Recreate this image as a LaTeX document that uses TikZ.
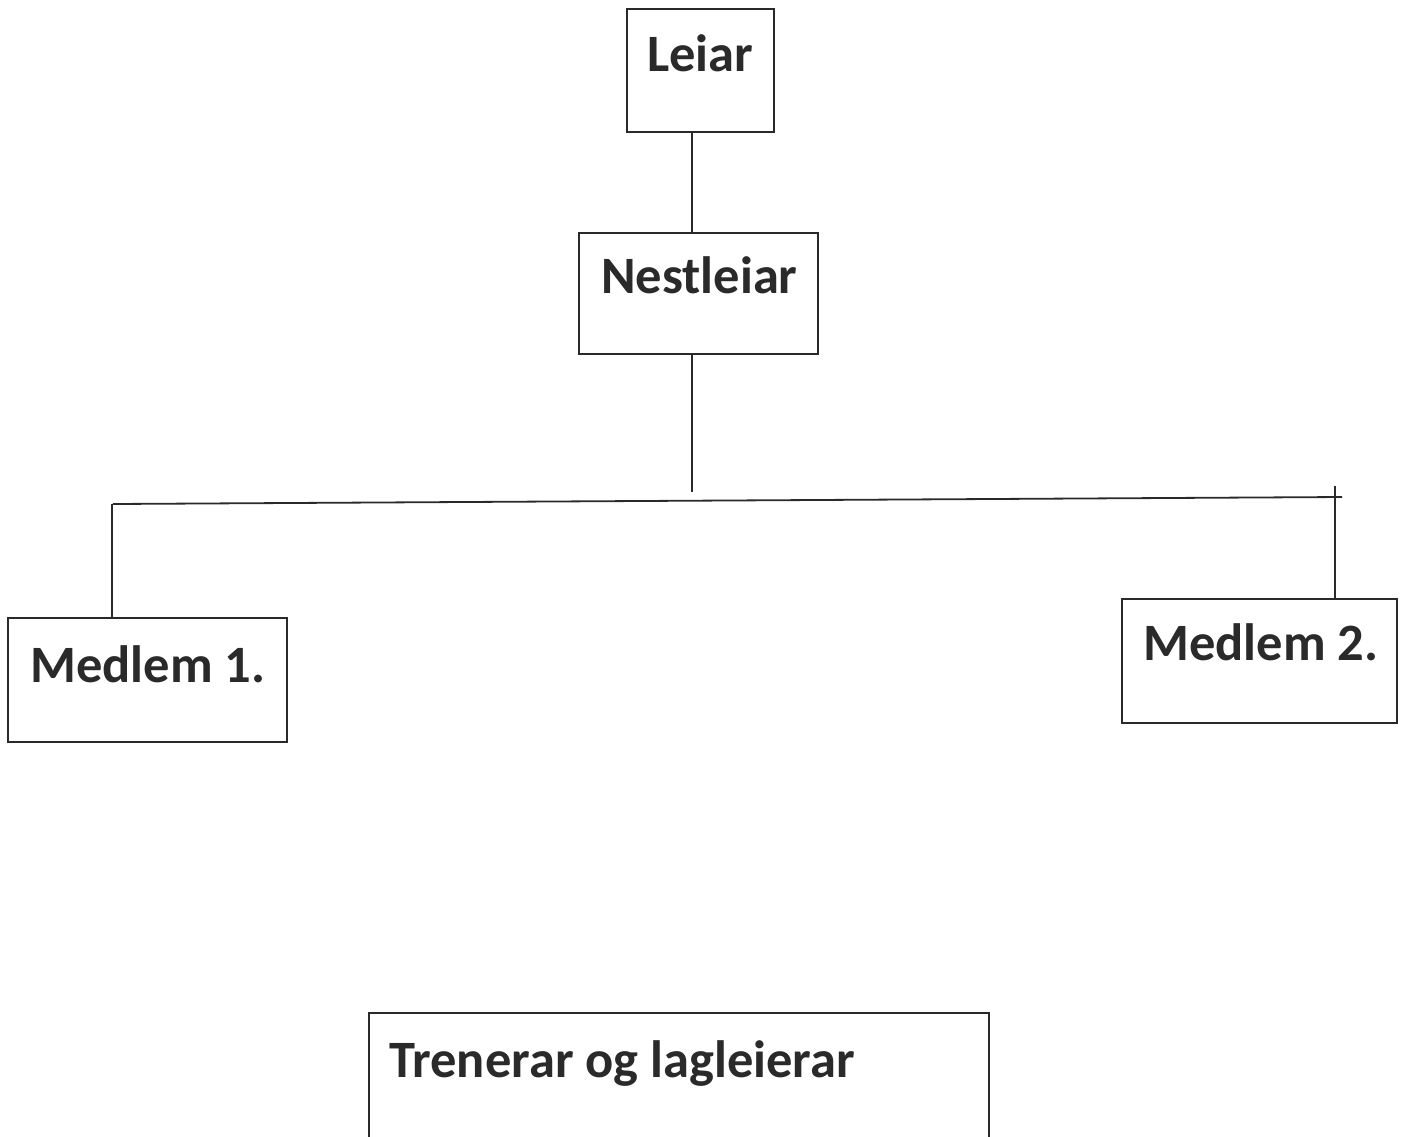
\documentclass[tikz,border=0pt]{standalone}
\usepackage{fontspec}
\setmainfont{Carlito}
\definecolor{ink}{HTML}{2A2A2A}
\begin{document}
\begin{tikzpicture}[x=1pt,y=-1pt,
  box/.style={draw=ink,line width=2pt,rectangle,inner sep=0pt,outer sep=0pt,anchor=north west},
  lbl/.style={text=ink,font=\fontsize{52.5}{60}\selectfont\bfseries,anchor=base west,inner sep=0pt},
  conn/.style={draw=ink,line width=1.8pt}]
\useasboundingbox[fill=white] (0,0) rectangle (1408,1136);
% boxes
\node[box,minimum width=147pt,minimum height=123pt] (leiar) at (627,9) {};
\node[box,minimum width=239pt,minimum height=121pt] (nest) at (579,233) {};
\node[box,minimum width=279pt,minimum height=124pt] (m1) at (8,618) {};
\node[box,minimum width=275pt,minimum height=124pt] (m2) at (1122,599) {};
\node[box,minimum width=620pt,minimum height=135pt] (tren) at (369,1013) {};
% labels
\node[lbl] (tleiar) at (647,71) {Leiar};
\node[lbl] (tnest) at (601,293) {Nestleiar};
\node[lbl] (tm1) at (30,682) {Medlem 1.};
\node[lbl] (tm2) at (1143,660) {Medlem 2.};
\node[lbl] (ttren) at (389,1077) {Trenerar og lagleierar};
% connectors
\coordinate (j) at (692,492);
\coordinate (hl) at (113,504);
\coordinate (hr) at (1342,497);
\coordinate (vl) at (112,504);
\coordinate (vr) at (1335,486);
\draw[conn] (leiar.south -| 692,0) -- (nest.north -| 692,0);
\draw[conn] (nest.south -| 692,0) -- (j);
\draw[conn] (hl) -- (hr);
\draw[conn] (vl) -- (m1.north -| vl);
\draw[conn] (vr) -- (m2.north -| vr);
\end{tikzpicture}
\end{document}
